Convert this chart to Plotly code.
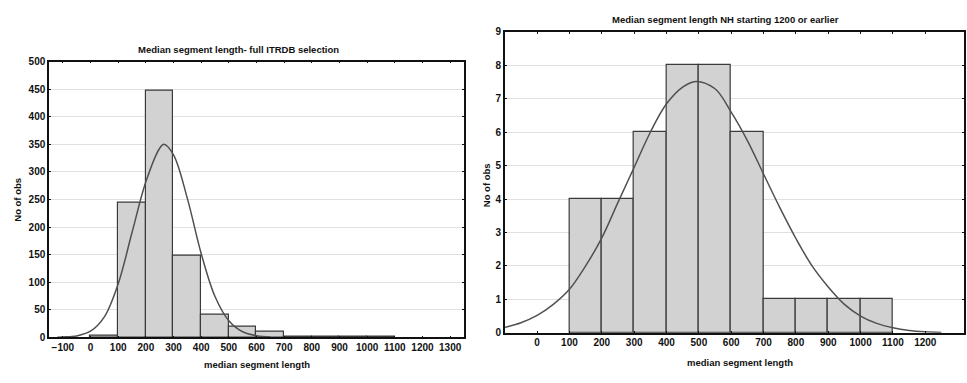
import plotly.graph_objects as go

# ---- data: left panel (full ITRDB selection) ----
left_bin_start = [0, 100, 200, 300, 400, 500, 600, 700, 800, 900, 1000]
left_counts = [3, 245, 448, 148, 42, 20, 10, 1, 1, 1, 1]
left_curve_x = [-120, -100, -50, 0, 50, 100, 150, 200, 250, 265, 300, 350, 400, 450, 500, 550, 600, 650]
left_curve_y = [0.2, 0.6, 2.5, 11, 37, 97, 190, 282, 343, 350, 331, 252, 152, 74, 30, 10, 3, 0.6]
left_xticks = list(range(-100, 1301, 100))
left_yticks = list(range(0, 501, 50))

# ---- data: right panel (NH starting 1200 or earlier) ----
right_bin_start = [100, 200, 300, 400, 500, 600, 700, 800, 900, 1000]
right_counts = [4, 4, 6, 8, 8, 6, 1, 1, 1, 1]
right_curve_x = [-100, -50, 0, 50, 100, 150, 200, 250, 300, 350, 400, 450, 490, 550, 600, 650, 700, 750, 800, 850, 900, 950, 1000, 1050, 1100, 1150, 1200, 1250]
right_curve_y = [0.16, 0.3, 0.52, 0.85, 1.3, 2.0, 2.84, 3.9, 4.95, 6.0, 6.85, 7.35, 7.52, 7.3, 6.6, 5.75, 4.75, 3.75, 2.82, 2.0, 1.37, 0.85, 0.5, 0.28, 0.15, 0.07, 0.03, 0.01]
right_xticks = list(range(0, 1201, 100))
right_yticks = list(range(0, 10, 1))

BAR_FILL = "#d2d2d2"
BAR_LINE = "#3a3a3a"
CURVE = "#505050"
FONT = "Liberation Sans"
W, H = 967, 383

fig = go.Figure()

fig.add_trace(go.Bar(x=left_bin_start, y=left_counts, width=100, offset=0,
                     marker=dict(color=BAR_FILL, line=dict(color=BAR_LINE, width=1.2)),
                     xaxis="x", yaxis="y", showlegend=False))
fig.add_trace(go.Scatter(x=left_curve_x, y=left_curve_y, mode="lines",
                         line=dict(color=CURVE, width=1.5, shape="spline"),
                         xaxis="x", yaxis="y", showlegend=False))
fig.add_trace(go.Bar(x=right_bin_start, y=right_counts, width=100, offset=0,
                     marker=dict(color=BAR_FILL, line=dict(color=BAR_LINE, width=1.2)),
                     xaxis="x2", yaxis="y2", showlegend=False))
fig.add_trace(go.Scatter(x=right_curve_x, y=right_curve_y, mode="lines",
                         line=dict(color=CURVE, width=1.5, shape="spline"),
                         xaxis="x2", yaxis="y2", showlegend=False))

tickfont = dict(family=FONT, size=10, color="#111", weight="bold")
axcommon = dict(showline=True, linecolor="#111", linewidth=1.5, mirror="ticks",
                ticks="inside", ticklen=2, tickcolor="#111", tickfont=tickfont,
                zeroline=False)

fig.update_layout(
    width=W, height=H,
    margin=dict(l=0, r=0, t=0, b=0),
    paper_bgcolor="white", plot_bgcolor="white",
    bargap=0,
    xaxis=dict(domain=[0.0507, 0.4798], range=[-150, 1350], tickvals=left_xticks,
               showgrid=False, anchor="y", **axcommon),
    yaxis=dict(domain=[0.107, 0.850], range=[0, 500], tickvals=left_yticks,
               showgrid=True, gridcolor="#e0e0e0", gridwidth=1, anchor="x", **axcommon),
    xaxis2=dict(domain=[0.522, 0.997], range=[-100, 1320], tickvals=right_xticks,
                showgrid=False, anchor="y2", **axcommon),
    yaxis2=dict(domain=[0.1193, 0.930], range=[0, 9], tickvals=right_yticks,
                showgrid=True, gridcolor="#e0e0e0", gridwidth=1, anchor="x2", **axcommon),
)

ann_font = dict(family=FONT, size=9.5, color="#111", weight="bold")

def label(text, px, py, angle=0):
    fig.add_annotation(text=text, x=px / W, y=1 - py / H, xref="paper", yref="paper",
                       xanchor="center", yanchor="middle", textangle=angle,
                       showarrow=False, font=ann_font)

label("Median segment length- full ITRDB selection", 238, 45)
label("Median segment length NH starting 1200 or earlier", 725, 14)
label("median segment length", 257, 370)
label("median segment length", 740, 368)
label("No of obs", 18, 200, -90)
label("No of obs", 486, 185, -90)

fig.write_html("out.html")
